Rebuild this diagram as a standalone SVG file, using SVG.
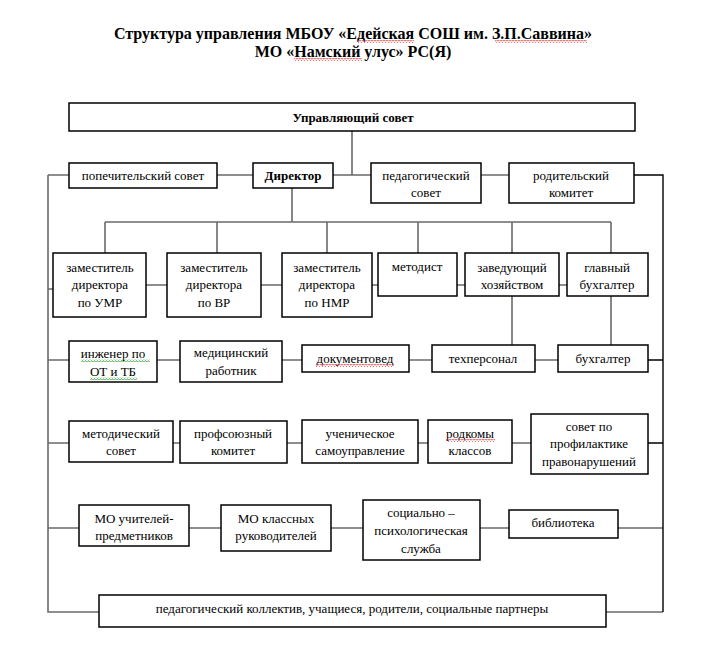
<svg xmlns="http://www.w3.org/2000/svg" width="706" height="654" viewBox="0 0 706 654">
<style>
.b{fill:#fff;stroke:#000;stroke-width:1.5}
.t{font-family:"Liberation Serif","Times New Roman",serif;font-size:13px;fill:#000;text-anchor:middle}
.tb{font-family:"Liberation Serif","Times New Roman",serif;font-size:13px;font-weight:bold;fill:#000;text-anchor:middle}
.h{font-family:"Liberation Serif","Times New Roman",serif;font-size:16px;font-weight:bold;fill:#000;text-anchor:middle}
.c{fill:none;stroke:#6a6a6a;stroke-width:1.6}
.k{fill:none;stroke:#000;stroke-width:1.4}
</style>
<defs>
<pattern id="wr" width="3" height="3" patternUnits="userSpaceOnUse"><path d="M0 2.5L1.5 0.5L3 2.5" fill="none" stroke="#e02020" stroke-width="0.8"/></pattern>
<pattern id="wg" width="3" height="3" patternUnits="userSpaceOnUse"><path d="M0 2.5L1.5 0.5L3 2.5" fill="none" stroke="#2a9a2a" stroke-width="0.8"/></pattern>
</defs>
<rect width="706" height="654" fill="#fff"/>
<g id="title">
<text class="h" x="353" y="39">Структура управления МБОУ «Едейская СОШ им. З.П.Саввина»</text>
<text class="h" x="353" y="57">МО «Намский улус» РС(Я)</text>
</g>
<g id="connectors">
<path class="c" d="M352 131V175M333 175H371M217 175H253M48 175H69M48 175V612H99"/>
<path class="c" d="M292 188V222M105 222H611M105 222V253M217 222V253M327 222V253M418 222V253M512 222V253M611 222V253"/>
<path class="c" d="M48 289H53M146 285H167M261 285H282M372 285H378M457 285H465M559 285H567"/>
<path class="c" d="M512 296V345M611 296V345"/>
<path class="c" d="M48 360H69M157 360H180M282 360H302M409 360H432M535 360H558"/>
<path class="c" d="M48 443H69M173 443H180M287 443H302M418 443H428M512 443H531"/>
<path class="c" d="M48 528H79M189 528H221M331 528H363M480 528H509M618 528H663"/>
<path class="c" d="M606 612H663M481 175H509"/>
<path class="k" d="M634 175H663V612M648 360H663M648 443H663"/>
</g>
<g id="n-us"><rect class="b" x="69" y="103" width="566" height="28"/><text class="tb" x="353" y="122">Управляющий совет</text></g>
<g id="n-pop"><rect class="b" x="69" y="163" width="148" height="25"/><text class="t" x="143" y="180">попечительский совет</text></g>
<g id="n-dir"><rect class="b" x="253" y="163" width="80" height="25"/><text class="tb" x="293" y="180">Директор</text></g>
<g id="n-ped"><rect class="b" x="371" y="163" width="110" height="40"/><text class="t" x="426" y="180">педагогический</text><text class="t" x="426" y="197">совет</text></g>
<g id="n-rod"><rect class="b" x="509" y="163" width="125" height="40"/><text class="t" x="571" y="180">родительский</text><text class="t" x="571" y="197">комитет</text></g>
<g id="n-umr"><rect class="b" x="53" y="253" width="93" height="64"/><text class="t" x="100" y="272">заместитель</text><text class="t" x="100" y="289">директора</text><text class="t" x="100" y="307">по УМР</text></g>
<g id="n-vr"><rect class="b" x="167" y="253" width="94" height="64"/><text class="t" x="214" y="272">заместитель</text><text class="t" x="214" y="289">директора</text><text class="t" x="214" y="307">по ВР</text></g>
<g id="n-nmr"><rect class="b" x="282" y="253" width="90" height="64"/><text class="t" x="327" y="272">заместитель</text><text class="t" x="327" y="289">директора</text><text class="t" x="327" y="307">по НМР</text></g>
<g id="n-met"><rect class="b" x="378" y="253" width="79" height="43"/><text class="t" x="417" y="271">методист</text></g>
<g id="n-zav"><rect class="b" x="465" y="253" width="94" height="43"/><text class="t" x="512" y="272">заведующий</text><text class="t" x="512" y="289">хозяйством</text></g>
<g id="n-gb"><rect class="b" x="567" y="253" width="81" height="43"/><text class="t" x="607" y="272">главный</text><text class="t" x="607" y="289">бухгалтер</text></g>
<g id="n-ing"><rect class="b" x="69" y="341" width="88" height="41"/><text class="t" x="113" y="358">инженер по</text><text class="t" x="113" y="376">ОТ и ТБ</text></g>
<g id="n-med"><rect class="b" x="180" y="341" width="102" height="41"/><text class="t" x="231" y="357">медицинский</text><text class="t" x="231" y="375">работник</text></g>
<g id="n-doc"><rect class="b" x="302" y="345" width="107" height="27"/><text class="t" x="355" y="363">документовед</text></g>
<g id="n-teh"><rect class="b" x="432" y="345" width="103" height="27"/><text class="t" x="483" y="363">техперсонал</text></g>
<g id="n-buh"><rect class="b" x="558" y="345" width="90" height="27"/><text class="t" x="603" y="363">бухгалтер</text></g>
<g id="n-mets"><rect class="b" x="69" y="421" width="104" height="41"/><text class="t" x="121" y="438">методический</text><text class="t" x="121" y="455">совет</text></g>
<g id="n-prof"><rect class="b" x="180" y="421" width="107" height="42"/><text class="t" x="233" y="438">профсоюзный</text><text class="t" x="233" y="455">комитет</text></g>
<g id="n-uch"><rect class="b" x="302" y="420" width="116" height="43"/><text class="t" x="360" y="438">ученическое</text><text class="t" x="360" y="455">самоуправление</text></g>
<g id="n-rodk"><rect class="b" x="428" y="420" width="84" height="43"/><text class="t" x="470" y="438">родкомы</text><text class="t" x="470" y="455">классов</text></g>
<g id="n-prav"><rect class="b" x="531" y="414" width="117" height="60"/><text class="t" x="589" y="431">совет по</text><text class="t" x="589" y="448">профилактике</text><text class="t" x="589" y="466">правонарушений</text></g>
<g id="n-mou"><rect class="b" x="79" y="505" width="110" height="41"/><text class="t" x="134" y="523">МО учителей-</text><text class="t" x="134" y="540">предметников</text></g>
<g id="n-mok"><rect class="b" x="221" y="505" width="110" height="46"/><text class="t" x="276" y="523">МО классных</text><text class="t" x="276" y="540">руководителей</text></g>
<g id="n-soc"><rect class="b" x="363" y="500" width="117" height="60"/><text class="t" x="421" y="517">социально –</text><text class="t" x="421" y="535">психологическая</text><text class="t" x="421" y="553">служба</text></g>
<g id="n-bib"><rect class="b" x="509" y="510" width="109" height="28"/><text class="t" x="563" y="527">библиотека</text></g>
<g id="n-kol"><rect class="b" x="99" y="595" width="507" height="32"/><text class="t" x="352" y="613">педагогический коллектив, учащиеся, родители, социальные партнеры</text></g>
<g id="spellmarks">
<rect x="357" y="40" width="57" height="3" fill="url(#wr)"/>
<rect x="495" y="40" width="92" height="3" fill="url(#wr)"/>
<rect x="294" y="58" width="68" height="3" fill="url(#wr)"/>
<rect x="81" y="359" width="69" height="3" fill="url(#wg)"/>
<rect x="90" y="377" width="47" height="3" fill="url(#wg)"/>
<rect x="316" y="364" width="78" height="3" fill="url(#wr)"/>
<rect x="446" y="439" width="49" height="3" fill="url(#wr)"/>
</g>
</svg>
